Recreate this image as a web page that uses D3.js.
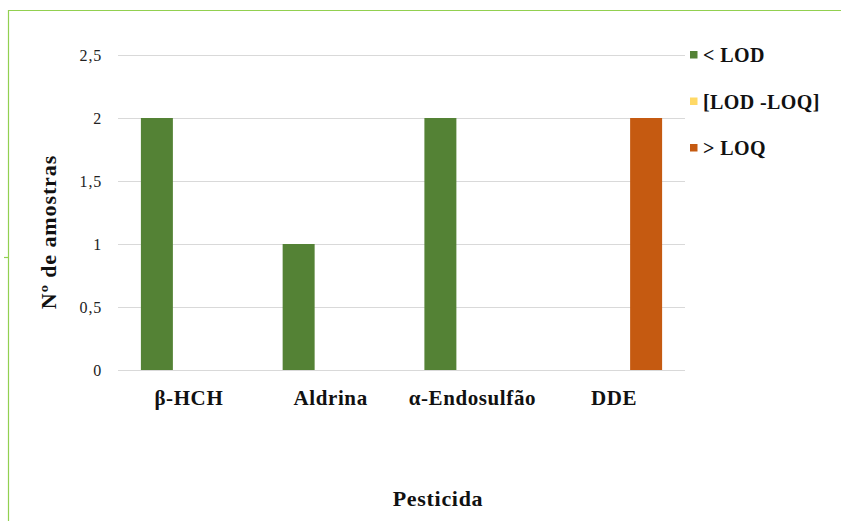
<!DOCTYPE html>
<html>
<head>
<meta charset="utf-8">
<script src="https://cdn.jsdelivr.net/npm/d3@7/dist/d3.min.js"></script>
<style>
  html, body { margin: 0; padding: 0; background: #fff; }
</style>
</head>
<body>
<svg id="chart" width="841" height="521"></svg>
<script>
// Pesticides and number of samples per detection class
const categories = ["β-HCH", "Aldrina", "α-Endosulfão", "DDE"];
const seriesNames = ["< LOD", "[LOD -LOQ]", "> LOQ"];
const belowLOD = [2, 1, 2, 0];
const betweenLODLOQ = [0, 0, 0, 0];
const aboveLOQ = [0, 0, 0, 2];
const yTicks = [0, 0.5, 1, 1.5, 2, 2.5];
const yTickLabels = ["0", "0,5", "1", "1,5", "2", "2,5"];
const colors = ["#548235", "#ffd966", "#c55a11"];
const FONT = "'Liberation Serif', 'Times New Roman', Times, 'DejaVu Serif', serif";

const seriesValues = [belowLOD, betweenLODLOQ, aboveLOQ];
const rows = categories.map((c, i) => ({
  cat: c,
  values: seriesNames.map((s, j) => ({ series: s, idx: j, value: seriesValues[j][i] }))
}));

const svg = d3.select("#chart");

// frame
svg.append("path")
  .attr("d", "M8.5,521 L8.5,10.5 L841,10.5")
  .attr("fill", "none").attr("stroke", "#92d050").attr("stroke-width", 1.2);
svg.append("line").attr("x1", 4).attr("x2", 8).attr("y1", 257.5).attr("y2", 257.5)
  .attr("stroke", "#92d050").attr("stroke-width", 1.2);

const margin = { left: 118, right: 156, top: 55, bottom: 151 };
const W = 841, H = 521;
const x0 = d3.scaleBand().domain(categories).range([margin.left, W - margin.right]).paddingInner(0).paddingOuter(0);
const groupW = x0.bandwidth() * 0.677;
const x1 = d3.scaleBand().domain(seriesNames).range([0, groupW]);
const y = d3.scaleLinear().domain([0, 2.5]).range([H - margin.bottom, margin.top]);

// gridlines
svg.append("g").selectAll("line").data(yTicks).join("line")
  .attr("x1", margin.left).attr("x2", W - margin.right)
  .attr("y1", d => Math.round(y(d)) + 0.5).attr("y2", d => Math.round(y(d)) + 0.5)
  .attr("stroke", "#d9d9d9").attr("stroke-width", 1);

// y tick labels
svg.append("g").selectAll("text").data(yTicks).join("text")
  .attr("x", 102).attr("y", d => y(d)).attr("dy", "0.35em")
  .attr("text-anchor", "end").attr("font-size", 16).attr("fill", "#222")
  .style("font-family", FONT).style("letter-spacing", "0.8px")
  .text((d, i) => yTickLabels[i]);

// bars
const groups = svg.append("g").selectAll("g").data(rows).join("g")
  .attr("transform", d => `translate(${x0(d.cat) + (x0.bandwidth() - groupW) / 2},0)`);
groups.selectAll("rect").data(d => d.values.filter(v => v.value > 0)).join("rect")
  .attr("x", d => x1(d.series))
  .attr("width", x1.bandwidth())
  .attr("y", d => y(d.value))
  .attr("height", d => y(0) - y(d.value))
  .attr("fill", d => colors[d.idx]);

// x category labels
svg.append("g").selectAll("text").data(categories).join("text")
  .attr("x", d => x0(d) + x0.bandwidth() / 2).attr("y", 405)
  .attr("text-anchor", "middle").attr("font-size", 21).attr("font-weight", "bold").attr("fill", "#111")
  .style("font-family", FONT).style("letter-spacing", "0.6px")
  .text(d => d);

// axis titles
svg.append("text")
  .attr("transform", `translate(56,232) rotate(-90)`)
  .attr("text-anchor", "middle").attr("font-size", 22).attr("font-weight", "bold").attr("fill", "#111")
  .style("font-family", FONT).style("letter-spacing", "0.9px")
  .text("Nº de amostras");
svg.append("text")
  .attr("x", 438).attr("y", 506)
  .attr("text-anchor", "middle").attr("font-size", 22).attr("font-weight", "bold").attr("fill", "#111")
  .style("font-family", FONT).style("letter-spacing", "0.7px")
  .text("Pesticida");

// legend
const legend = svg.append("g").selectAll("g").data(seriesNames).join("g")
  .attr("transform", (d, i) => `translate(690,${62 + i * 46.5})`);
legend.append("rect").attr("x", 0).attr("y", -11).attr("width", 7.5).attr("height", 7.5)
  .attr("fill", (d, i) => colors[i]);
legend.append("text").attr("x", 13).attr("y", 0)
  .attr("font-size", 20).attr("font-weight", "bold").attr("fill", "#111")
  .style("font-family", FONT).style("letter-spacing", "0.4px")
  .text(d => d);
</script>
</body>
</html>
